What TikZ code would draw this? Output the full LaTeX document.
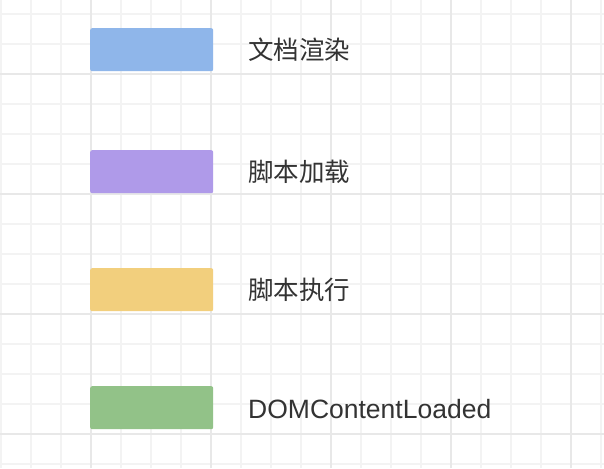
\documentclass[tikz,border=0pt]{standalone}
\usepackage{fontspec}
\newfontfamily\cjk{Noto Sans CJK SC}
\newfontfamily\lat{Liberation Sans}
\definecolor{gminor}{HTML}{F3F3F3}
\definecolor{gmajor}{HTML}{E8E8E8}
\definecolor{cblue}{HTML}{8FB6EA}
\definecolor{cpurple}{HTML}{AF9AE9}
\definecolor{cyellow}{HTML}{F2CF7D}
\definecolor{cgreen}{HTML}{92C288}
\definecolor{txt}{HTML}{333333}
\tikzset{
  swatch/.style={draw=none, rounded corners=2pt, minimum width=123pt, minimum height=43pt, inner sep=0pt, anchor=north west},
  lbl/.style={anchor=west, inner sep=0pt, text=txt, font=\cjk\fontsize{25.5}{30}\selectfont},
}
\begin{document}
\begin{tikzpicture}[x=1pt,y=1pt]
\useasboundingbox (0,0) rectangle (604,468);
\fill[white] (0,0) rectangle (604,468);
% minor grid
\foreach \x in {1,31,...,601} \draw[gminor, line width=1.2pt] (\x,0) -- (\x,468);
\foreach \y in {14,44,...,464} \draw[gminor, line width=1.2pt] (0,468-\y) -- (604,468-\y);
% major grid
\foreach \x in {91,211,331,451,571} \draw[gmajor, line width=1.6pt] (\x,0) -- (\x,468);
\foreach \y in {74,194,314,434} \draw[gmajor, line width=1.6pt] (0,468-\y) -- (604,468-\y);
% swatches
\node[swatch, fill=cblue]   (s1) at (90,468-28)  {};
\node[swatch, fill=cpurple] (s2) at (90,468-150) {};
\node[swatch, fill=cyellow] (s3) at (90,468-268) {};
\node[swatch, fill=cgreen]  (s4) at (90,468-386) {};
% labels
\node[lbl] (t1) at (248,468-50)  {文档渲染};
\node[lbl] (t2) at (248,468-172) {脚本加载};
\node[lbl] (t3) at (248,468-290) {脚本执行};
\node[lbl, font=\lat\fontsize{26.5}{30}\selectfont] (t4) at (248,468-409) {DOMContentLoaded};
\end{tikzpicture}
\end{document}
